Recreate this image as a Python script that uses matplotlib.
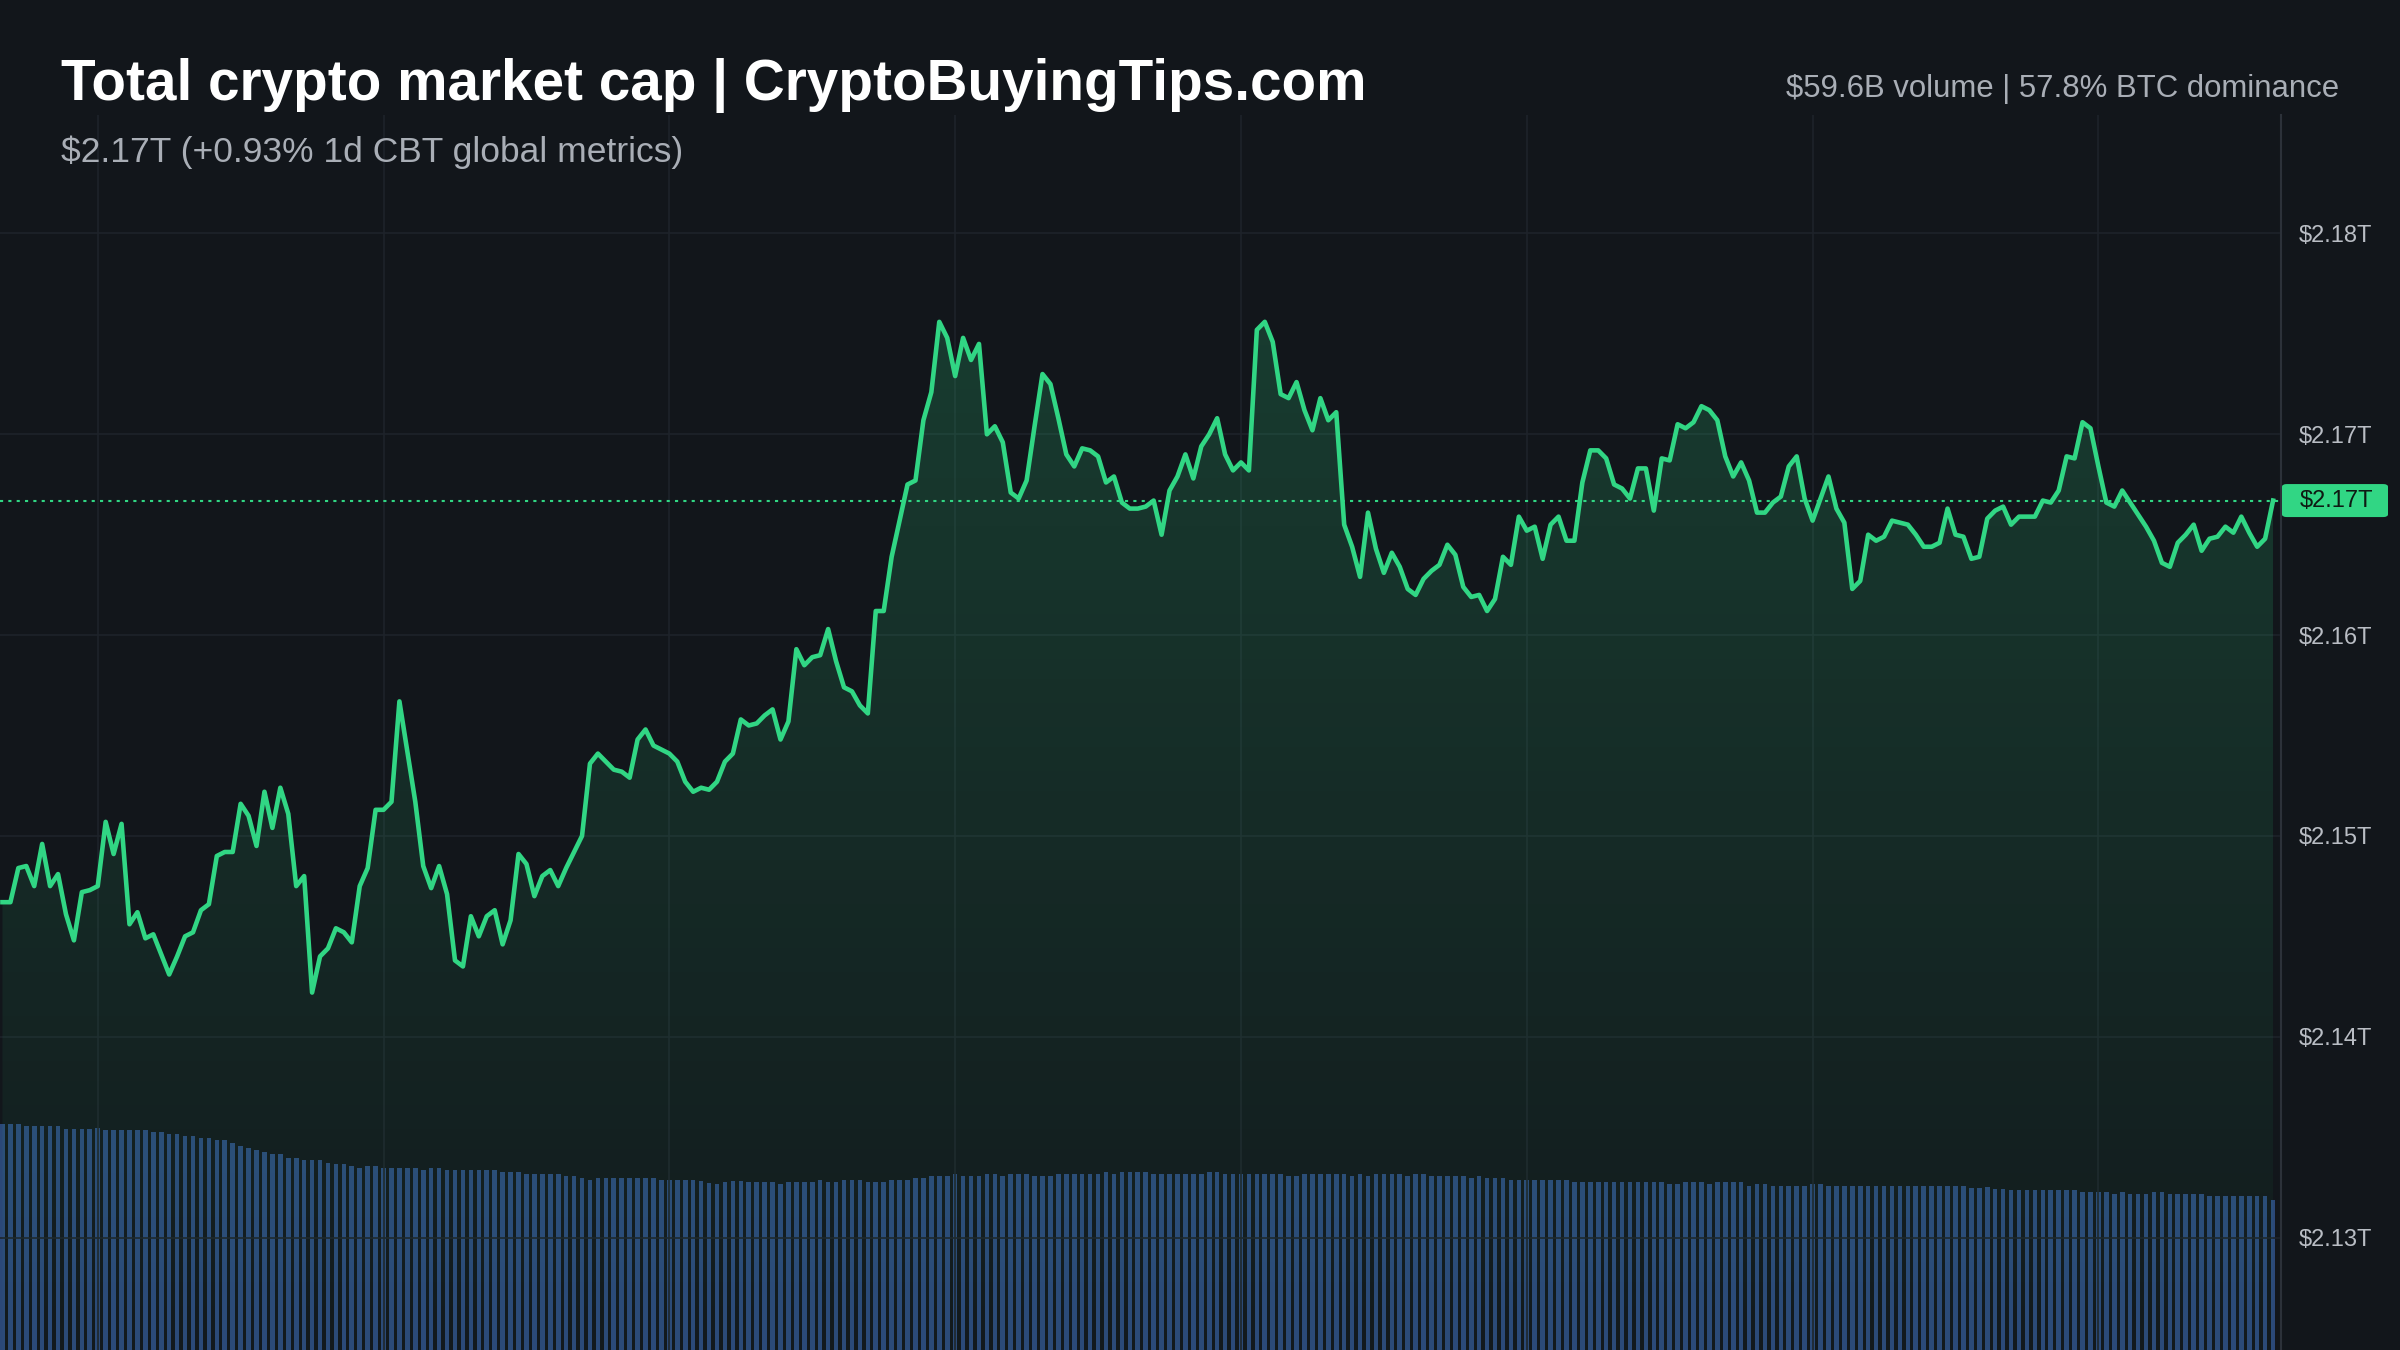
import numpy as np
import matplotlib
matplotlib.use("Agg")
import matplotlib.pyplot as plt
from matplotlib.patches import Polygon, FancyBboxPatch
from matplotlib.ticker import FuncFormatter

plt.rcParams['font.family'] = ['Liberation Sans', 'DejaVu Sans']

# total market cap, $B, one point per interval
market_cap_b = [
    2146.7, 2146.7, 2148.4, 2148.5, 2147.5, 2149.6, 2147.5, 2148.1, 2146.1, 2144.8,
    2147.2, 2147.3, 2147.5, 2150.7, 2149.1, 2150.6, 2145.6, 2146.2, 2144.9, 2145.1,
    2144.1, 2143.1, 2144.0, 2145.0, 2145.2, 2146.3, 2146.6, 2149.0, 2149.2, 2149.2,
    2151.6, 2151.0, 2149.5, 2152.2, 2150.4, 2152.4, 2151.1, 2147.5, 2148.0, 2142.2,
    2144.0, 2144.4, 2145.4, 2145.2, 2144.7, 2147.5, 2148.4, 2151.3, 2151.3, 2151.7,
    2156.7, 2154.2, 2151.7, 2148.5, 2147.4, 2148.5, 2147.1, 2143.8, 2143.5, 2146.0,
    2145.0, 2146.0, 2146.3, 2144.6, 2145.8, 2149.1, 2148.6, 2147.0, 2148.0, 2148.3,
    2147.5, 2148.4, 2149.2, 2150.0, 2153.6, 2154.1, 2153.7, 2153.3, 2153.2, 2152.9,
    2154.8, 2155.3, 2154.5, 2154.3, 2154.1, 2153.7, 2152.7, 2152.2, 2152.4, 2152.3,
    2152.7, 2153.7, 2154.1, 2155.8, 2155.5, 2155.6, 2156.0, 2156.3, 2154.8, 2155.7,
    2159.3,
    2158.5, 2158.9, 2159.0, 2160.3, 2158.7, 2157.4, 2157.2, 2156.5, 2156.1, 2161.2,
    2161.2, 2163.9, 2165.7, 2167.5, 2167.7, 2170.7, 2172.1, 2175.6, 2174.8, 2172.9,
    2174.8, 2173.7, 2174.5, 2170.0, 2170.4, 2169.6, 2167.1, 2166.8, 2167.7, 2170.4,
    2173.0, 2172.5, 2170.8, 2169.0, 2168.4, 2169.3, 2169.2, 2168.9, 2167.6, 2167.9,
    2166.6, 2166.3, 2166.3, 2166.4, 2166.7, 2165.0, 2167.2, 2167.9, 2169.0, 2167.8,
    2169.4, 2170.0, 2170.8, 2169.0, 2168.2, 2168.6, 2168.2, 2175.2, 2175.6, 2174.6,
    2172.0, 2171.8, 2172.6, 2171.2, 2170.2, 2171.8, 2170.7, 2171.1, 2165.5, 2164.4,
    2162.9, 2166.1, 2164.3, 2163.1, 2164.1, 2163.4, 2162.3, 2162.0, 2162.8, 2163.2,
    2163.5, 2164.5, 2164.0, 2162.4, 2161.9, 2162.0, 2161.2, 2161.8, 2163.9, 2163.5,
    2165.9, 2165.2, 2165.4, 2163.8, 2165.5, 2165.9, 2164.7, 2164.7,
    2167.6, 2169.2, 2169.2, 2168.8, 2167.5, 2167.3, 2166.8, 2168.3, 2168.3, 2166.2,
    2168.8, 2168.7, 2170.5, 2170.3, 2170.6, 2171.4, 2171.2, 2170.7, 2168.9, 2167.9,
    2168.6, 2167.7, 2166.1, 2166.1, 2166.6, 2166.9, 2168.4, 2168.9, 2166.8, 2165.7,
    2166.8, 2167.9, 2166.3, 2165.6, 2162.3, 2162.7, 2165.0, 2164.7, 2164.9, 2165.7,
    2165.6, 2165.5, 2165.0, 2164.4, 2164.4, 2164.6, 2166.3, 2165.0, 2164.9, 2163.8,
    2163.9, 2165.8, 2166.2, 2166.4, 2165.5, 2165.9, 2165.9, 2165.9, 2166.7, 2166.6,
    2167.2, 2168.9, 2168.8, 2170.6, 2170.3, 2168.4, 2166.6, 2166.4, 2167.2, 2166.6,
    2166.0, 2165.4, 2164.7, 2163.6, 2163.4, 2164.6, 2165.0, 2165.5, 2164.2, 2164.8,
    2164.9, 2165.4, 2165.1, 2165.9, 2165.1, 2164.4, 2164.8, 2166.7,
]

# volume bars (arbitrary units), as (value, how many bars in a row)
volume_runs = [
    (22.6, 3), (22.4, 5), (22.1, 4), (22.2, 1), (22.0, 6), (21.8, 2), (21.6, 2),
    (21.4, 2), (21.2, 2), (21.0, 2), (20.7, 1), (20.4, 1), (20.2, 1), (20.0, 1),
    (19.8, 1), (19.6, 2), (19.2, 2), (19.0, 3), (18.7, 1), (18.6, 2), (18.4, 1),
    (18.2, 1), (18.4, 2), (18.2, 5), (18.0, 1), (18.2, 2), (18.0, 7), (17.8, 3),
    (17.6, 5), (17.4, 2), (17.2, 1), (17.0, 1), (17.2, 8), (17.0, 5), (16.9, 1),
    (16.7, 1), (16.6, 1), (16.8, 1), (16.9, 2), (16.8, 4), (16.6, 1), (16.8, 4),
    (17.0, 1), (16.8, 2), (17.0, 3), (16.8, 3), (17.0, 3), (17.2, 2), (17.4, 3),
    (17.6, 1), (17.4, 3), (17.6, 2), (17.4, 1), (17.6, 3), (17.4, 3), (17.6, 6),
    (17.8, 1), (17.6, 1), (17.8, 4), (17.6, 7), (17.8, 2), (17.6, 8), (17.4, 2),
    (17.6, 6), (17.4, 1), (17.6, 1), (17.4, 1), (17.6, 4), (17.4, 1), (17.6, 2),
    (17.4, 5), (17.2, 1), (17.4, 1), (17.2, 3), (17.0, 8), (16.8, 12), (16.6, 2),
    (16.8, 3), (16.6, 1), (16.8, 4), (16.4, 1), (16.6, 2), (16.4, 5), (16.6, 2),
    (16.4, 18), (16.2, 2), (16.3, 1), (16.1, 2), (16.0, 9), (15.8, 4), (15.6, 1),
    (15.8, 1), (15.6, 3), (15.8, 2), (15.6, 5), (15.4, 8), (15.0, 1),
]
volume = [v for v, k in volume_runs for _ in range(k)]

time_ticks = [12, 48, 84, 120, 156, 192, 228, 264]
price_ticks = [2130, 2140, 2150, 2160, 2170, 2180]

title = "Total crypto market cap | CryptoBuyingTips.com"
change_1d = "+0.93%"
stats = "$59.6B volume | 57.8% BTC dominance"

bg = '#12161b'
green = '#31d684'
grid_c = '#1e232a'
label_c = '#b9bdc4'

y = np.array(market_cap_b)
x = np.arange(len(y))
last = y[-1]
fmt = lambda v: f"${v / 1000:.2f}T"

fig = plt.figure(figsize=(24, 13.5), dpi=100, facecolor=bg)
ax = fig.add_axes([0, 0, 2281 / 2400, 1235 / 1350])
ax2 = ax.twinx()
ax2.set_facecolor(bg)
ax.set_zorder(ax2.get_zorder() + 1)
ax.patch.set_visible(False)

# volume bars
ax2.bar(np.arange(len(volume)), volume, width=0.58, color='#2b4878', linewidth=0)
ax2.set_ylim(0, 123.5)
ax2.set_yticks([])
for s in ax2.spines.values():
    s.set_visible(False)

ymin, ymax = 2124.4, 2185.9
xmin, xmax = -0.31, 287.0

# gradient fill under the line
grad = np.zeros((256, 1, 4))
grad[:, 0, :3] = matplotlib.colors.to_rgb(green)
grad[:, 0, 3] = np.linspace(0.02, 0.2, 256)
im = ax.imshow(grad, extent=[x[0], x[-1], ymin, y.max()], origin='lower',
               aspect='auto', zorder=2)
poly = Polygon(np.column_stack([np.r_[x[0], x, x[-1]], np.r_[ymin, y, ymin]]),
               closed=True, facecolor='none', edgecolor='none')
ax.add_patch(poly)
im.set_clip_path(poly)

ax.plot(x, y, color=green, lw=3.3, solid_joinstyle='round', zorder=4)
ax.axhline(last, color=green, lw=1.5, ls=(0, (1.5, 2.5)), zorder=3)

ax.set_xlim(xmin, xmax)
ax.set_ylim(ymin, ymax)
ax.set_xticks(time_ticks)
ax.set_yticks(price_ticks)
ax.grid(True, color=grid_c, lw=1.2)
ax.tick_params(axis='x', length=0, labelbottom=False)
ax.yaxis.tick_right()
ax.tick_params(axis='y', length=0, pad=13, labelsize=17, labelcolor=label_c)
ax.yaxis.set_major_formatter(FuncFormatter(lambda v, p: fmt(v)))
for side in ['top', 'left', 'bottom']:
    ax.spines[side].set_visible(False)
ax.spines['right'].set_color('#2c3139')
ax.spines['right'].set_linewidth(1.5)

# current value tag on the axis
ty = ax.transData.transform((0, last))[1] / 1350
tag = FancyBboxPatch((2282 / 2400, ty - 16.5 / 1350), 106 / 2400, 33 / 1350,
                     boxstyle='round,pad=0,rounding_size=0.002',
                     transform=fig.transFigure, facecolor=green, edgecolor='none')
fig.patches.append(tag)
fig.text(2300 / 2400, ty, fmt(last), color='#0e1a13', fontsize=17,
         va='center', ha='left')

# header
fig.text(61 / 2400, 1 - 100 / 1350, title, color='white', fontsize=40.8,
         fontweight='bold', va='baseline')
fig.text(61 / 2400, 1 - 162 / 1350, f"{fmt(last)} ({change_1d} 1d CBT global metrics)",
         color='#a9aeb6', fontsize=25.5, va='baseline')
fig.text(2339 / 2400, 1 - 97 / 1350, stats, color='#a9aeb6', fontsize=22.4,
         va='baseline', ha='right')

fig.savefig('out.png', dpi=100, facecolor=bg)
